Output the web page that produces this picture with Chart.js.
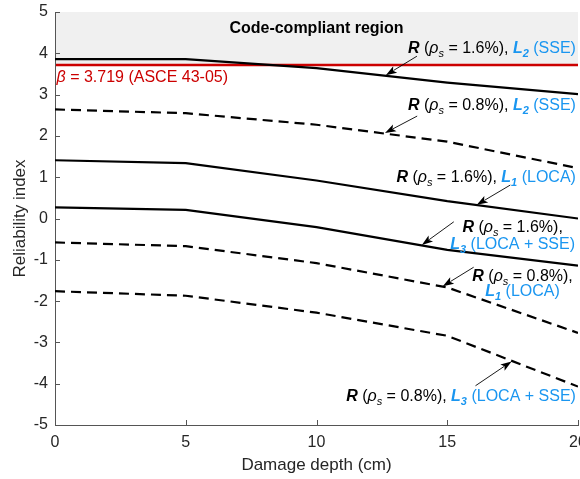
<!DOCTYPE html>
<html><head><meta charset="utf-8">
<script src="https://cdn.jsdelivr.net/npm/chart.js@4/dist/chart.umd.min.js"></script>
<style>html,body{margin:0;padding:0;background:#fff;overflow:hidden}#wrap{width:580px;height:479px;position:relative}</style>
</head><body><div id="wrap"><canvas id="c" width="580" height="479"></canvas></div>
<script>
// ---- data ----
const depth = [0, 5, 10, 15, 20];
const r16_L2 = [3.86, 3.86, 3.64, 3.29, 3.01];
const r08_L2 = [2.64, 2.55, 2.27, 1.86, 1.22];
const r16_L1 = [1.41, 1.34, 0.92, 0.42, 0.00];
const r16_L3 = [0.27, 0.21, -0.21, -0.76, -1.14];
const r08_L1 = [-0.58, -0.67, -1.08, -1.67, -2.77];
const r08_L3 = [-1.76, -1.87, -2.28, -2.84, -4.07];
const betaTarget = 3.719;
const xTicks = [0, 5, 10, 15, 20];
const yTicks = [-5, -4, -3, -2, -1, 0, 1, 2, 3, 4, 5];

// ---- styles ----
const FONT = '"Liberation Sans", Arial, Helvetica, sans-serif';
const BLUE = '#1A96F0';
const RED = '#CC0000';
const AXIS = '#555555';
const TXT = '#262626';
Chart.defaults.font.family = FONT;

const series = [
  {v: r16_L2, dash: []},
  {v: r08_L2, dash: [10, 6]},
  {v: r16_L1, dash: []},
  {v: r16_L3, dash: []},
  {v: r08_L1, dash: [10, 6]},
  {v: r08_L3, dash: [10, 6]}
];

function rPart(p) {
  return [{t:'R', s:'bi'}, {t:' ('}, {t:'\u03C1', s:'i'}, {t:'s', s:'isub'}, {t:' = ' + p + '%),'}];
}
function lPart(n, name) {
  return [{t:'L', s:'bi', c:BLUE}, {t:n, s:'bisub', c:BLUE}, {t:' (' + name + ')', c:BLUE}];
}
const labels = [
  {x:10, align:'center', lines:[{y:4.64, segs:[{t:'Code-compliant region', s:'b'}]}]},
  {x:0.06, align:'left', lines:[{y:3.45, segs:[{t:'\u03B2', s:'i', c:RED}, {t:' = 3.719 (ASCE 43-05)', c:RED}]}]},
  {x:19.92, align:'right', lines:[{y:4.14, segs:[...rPart('1.6'), {t:' '}, ...lPart('2','SSE')]}]},
  {x:19.92, align:'right', lines:[{y:2.76, segs:[...rPart('0.8'), {t:' '}, ...lPart('2','SSE')]}]},
  {x:19.92, align:'right', lines:[{y:1.02, segs:[...rPart('1.6'), {t:' '}, ...lPart('1','LOCA')]}]},
  {x:17.5, align:'center', lines:[{y:-0.19, segs:rPart('1.6')}, {y:-0.59, segs:lPart('3','LOCA + SSE')}]},
  {x:17.88, align:'center', lines:[{y:-1.37, segs:rPart('0.8')}, {y:-1.73, segs:lPart('1','LOCA')}]},
  {x:19.92, align:'right', lines:[{y:-4.27, segs:[...rPart('0.8'), {t:' '}, ...lPart('3','LOCA + SSE')]}]}
];
const arrows = [
  {from:[13.84, 3.93], to:[12.65, 3.47]},
  {from:[13.85, 2.48], to:[12.62, 2.07]},
  {from:[17.41, 0.81], to:[16.13, 0.33]},
  {from:[15.25, -0.08], to:[14.03, -0.64]},
  {from:[16.01, -1.18], to:[14.83, -1.64]},
  {from:[16.08, -4.05], to:[17.46, -3.46]}
];

function segFont(s) {
  switch (s) {
    case 'b': return 'bold 16px ' + FONT;
    case 'i': return 'italic 16px ' + FONT;
    case 'bi': return 'italic bold 16px ' + FONT;
    case 'isub': return 'italic 11px ' + FONT;
    case 'bisub': return 'italic bold 11px ' + FONT;
    default: return '16px ' + FONT;
  }
}
function drawRich(ctx, segs, x, baseY, align) {
  let total = 0;
  const w = segs.map(sg => { ctx.font = segFont(sg.s); const m = ctx.measureText(sg.t).width; total += m; return m; });
  let cx = align === 'left' ? x : align === 'right' ? x - total : x - total / 2;
  segs.forEach((sg, i) => {
    ctx.font = segFont(sg.s);
    ctx.fillStyle = sg.c || '#000';
    const dy = (sg.s === 'isub' || sg.s === 'bisub') ? 4 : 0;
    ctx.fillText(sg.t, cx, baseY + dy);
    cx += w[i];
  });
}

const bgPlugin = {
  id: 'bg',
  beforeDraw(chart) {
    const {ctx, chartArea: a, scales: {y}} = chart;
    ctx.save();
    ctx.fillStyle = '#F0F0F0';
    const yt = y.getPixelForValue(5), yb = y.getPixelForValue(betaTarget);
    ctx.fillRect(a.left, yt, a.right - a.left, yb - yt);
    ctx.restore();
  },
  beforeDatasetsDraw(chart) {
    const {ctx, chartArea: a, scales: {y}} = chart;
    ctx.save();
    ctx.strokeStyle = RED;
    ctx.lineWidth = 2.5;
    const yy = y.getPixelForValue(betaTarget);
    ctx.beginPath(); ctx.moveTo(a.left + 1, yy); ctx.lineTo(a.right, yy); ctx.stroke();
    ctx.restore();
  }
};

const annoPlugin = {
  id: 'anno',
  afterDraw(chart) {
    const {ctx, chartArea: a, scales: {x, y}} = chart;
    ctx.save();
    // inward ticks
    ctx.strokeStyle = AXIS; ctx.lineWidth = 1;
    ctx.beginPath();
    xTicks.forEach(v => { const px = Math.round(x.getPixelForValue(v)) + 0.5; ctx.moveTo(px, a.bottom); ctx.lineTo(px, a.bottom - 5); });
    yTicks.forEach(v => { const py = Math.round(y.getPixelForValue(v)) + 0.5; ctx.moveTo(a.left, py); ctx.lineTo(a.left + 5, py); });
    ctx.stroke();
    // labels
    ctx.textBaseline = 'alphabetic';
    ctx.textAlign = 'left';
    labels.forEach(l => {
      const px = x.getPixelForValue(l.x);
      l.lines.forEach(ln => drawRich(ctx, ln.segs, px, y.getPixelForValue(ln.y) + 5.7, l.align));
    });
    // arrows
    arrows.forEach(ar => {
      const x0 = x.getPixelForValue(ar.from[0]), y0 = y.getPixelForValue(ar.from[1]);
      const x1 = x.getPixelForValue(ar.to[0]), y1 = y.getPixelForValue(ar.to[1]);
      const ang = Math.atan2(y1 - y0, x1 - x0);
      const L = 11, W = 3.8;
      const bx = x1 - L * Math.cos(ang), by = y1 - L * Math.sin(ang);
      ctx.strokeStyle = '#000'; ctx.lineWidth = 0.9;
      ctx.beginPath(); ctx.moveTo(x0, y0); ctx.lineTo(bx + 2 * Math.cos(ang), by + 2 * Math.sin(ang)); ctx.stroke();
      ctx.fillStyle = '#000';
      const nx = -Math.sin(ang), ny = Math.cos(ang);
      ctx.beginPath();
      ctx.moveTo(x1, y1);
      ctx.lineTo(bx + nx * W, by + ny * W);
      ctx.lineTo(bx + 2.5 * Math.cos(ang), by + 2.5 * Math.sin(ang));
      ctx.lineTo(bx - nx * W, by - ny * W);
      ctx.closePath(); ctx.fill();
    });
    ctx.restore();
  }
};

new Chart(document.getElementById('c'), {
  type: 'line',
  data: {
    datasets: series.map(s => ({
      data: depth.map((d, i) => ({x: d, y: s.v[i]})),
      borderColor: '#000',
      borderWidth: 2.2,
      borderDash: s.dash,
      pointRadius: 0,
      tension: 0,
      fill: false
    }))
  },
  options: {
    responsive: false,
    devicePixelRatio: 1,
    animation: false,
    layout: {padding: {top: 12, right: 2, bottom: 0, left: 0}},
    plugins: {legend: {display: false}, tooltip: {enabled: false}},
    scales: {
      x: {
        type: 'linear', min: 0, max: 20,
        afterBuildTicks(s) { s.ticks = xTicks.map(v => ({value: v})); },
        ticks: {color: TXT, font: {size: 16}, padding: 8, maxRotation: 0, autoSkip: false},
        grid: {display: false, drawTicks: false},
        border: {display: true, color: AXIS, width: 1},
        title: {display: true, text: 'Damage depth (cm)', color: TXT, font: {size: 17}, padding: {top: 0, bottom: 3}},
        afterFit(s) { s.height = 54; s.paddingLeft = 0; s.paddingRight = 0; }
      },
      y: {
        type: 'linear', min: -5, max: 5,
        afterBuildTicks(s) { s.ticks = yTicks.map(v => ({value: v})); },
        ticks: {color: TXT, font: {size: 16}, padding: 7, autoSkip: false},
        grid: {display: false, drawTicks: false},
        border: {display: true, color: AXIS, width: 1},
        title: {display: true, text: 'Reliability index', color: TXT, font: {size: 17}, padding: {top: 10, bottom: 0}},
        afterFit(s) { s.width = 55; s.paddingTop = 0; s.paddingBottom = 0; }
      }
    }
  },
  plugins: [bgPlugin, annoPlugin]
});
</script>
</body></html>
